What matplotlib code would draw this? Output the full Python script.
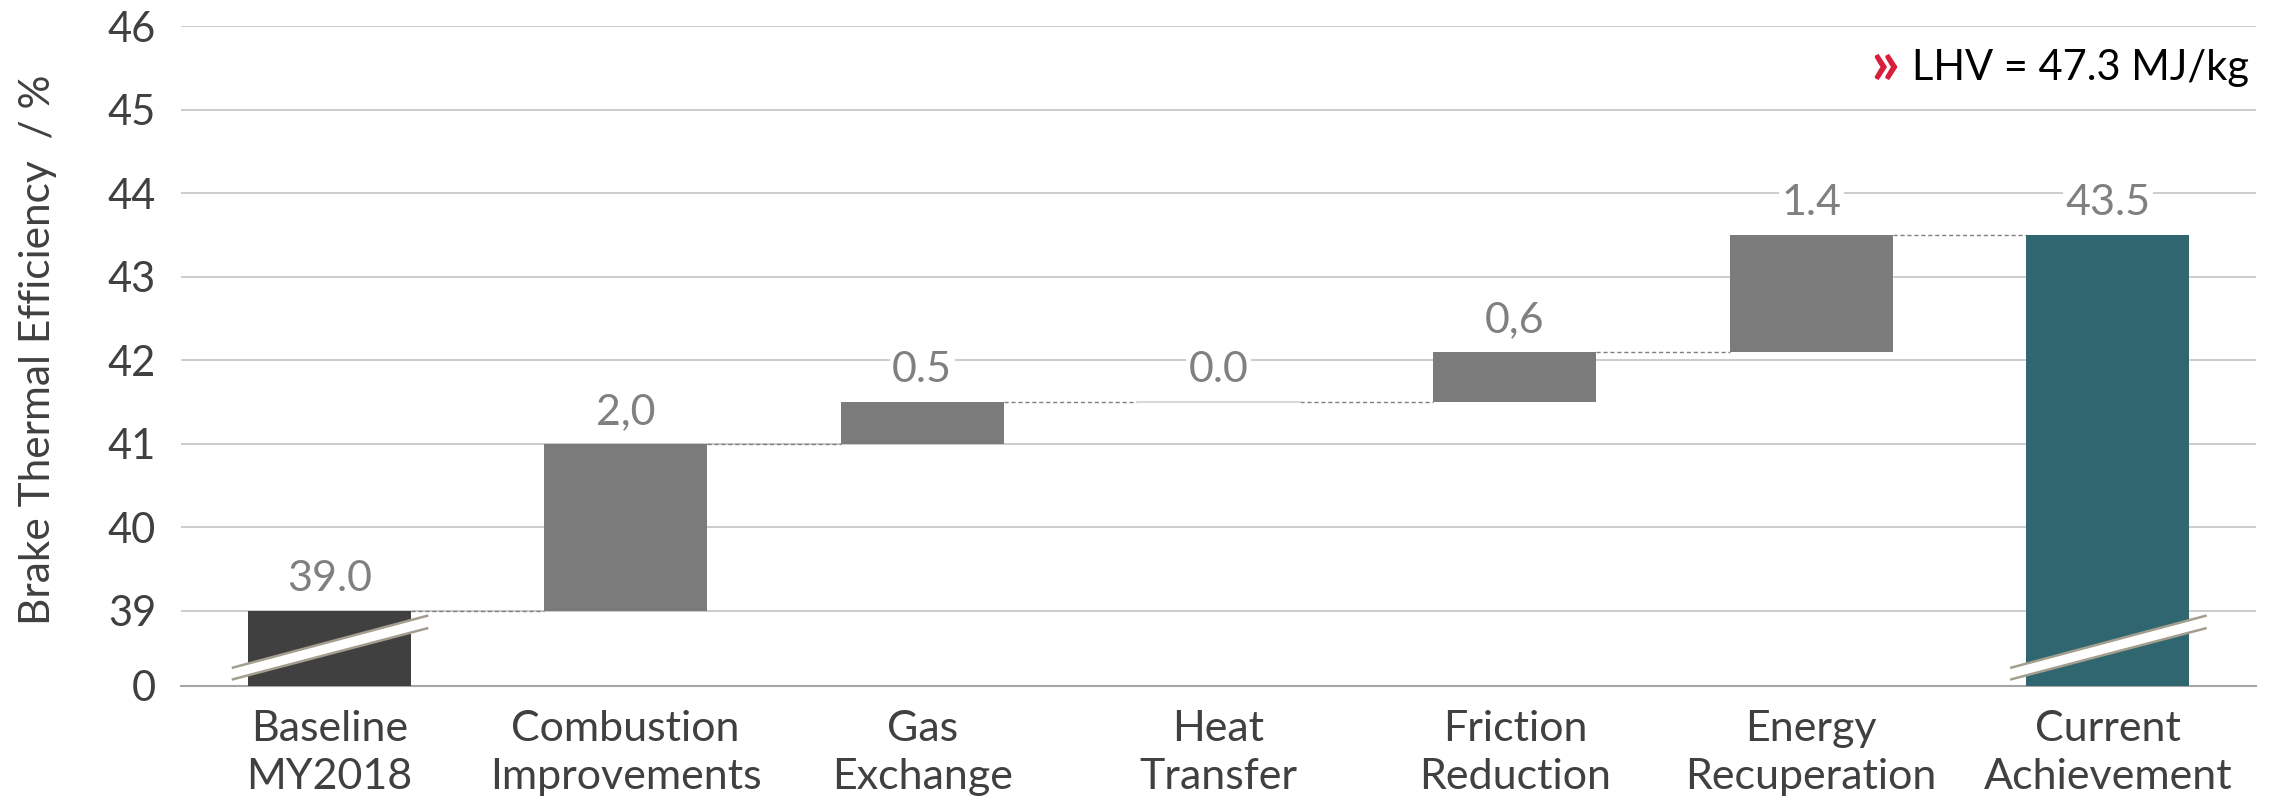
import matplotlib
matplotlib.use("Agg")
import matplotlib.pyplot as plt
from matplotlib.patches import Polygon

# ---- data ----
categories = ["Baseline\nMY2018", "Combustion\nImprovements", "Gas\nExchange",
              "Heat\nTransfer", "Friction\nReduction", "Energy\nRecuperation",
              "Current\nAchievement"]
baseline = 39.0
steps = [2.0, 0.5, 0.0, 0.6, 1.4]
total = 43.5
value_labels = ["39.0", "2,0", "0.5", "0.0", "0,6", "1.4", "43.5"]
axis_floor = 38.1          # broken axis: this position is labelled "0"
ytick_values = [38.1, 39, 40, 41, 42, 43, 44, 45, 46]
ytick_labels = ["0", "39", "40", "41", "42", "43", "44", "45", "46"]
note = "LHV = 47.3 MJ/kg"

plt.rcParams["font.family"] = ["Lato", "DejaVu Sans"]

C_BASE = "#404040"
C_STEP = "#7b7b7b"
C_TOTAL = "#2f666f"
C_TEXT = "#404040"
C_VAL = "#808080"
BW = 0.55

fig = plt.figure(figsize=(22.75, 8.01), dpi=100)
ax = fig.add_axes([0.0796, 0.1436, 0.912, 0.8239])

# running totals
tops = [baseline]
bottoms = [axis_floor]
run = baseline
for s in steps:
    bottoms.append(run)
    run += s
    tops.append(run)
tops.append(total)
bottoms.append(axis_floor)

n = len(categories)
for i in range(n):
    if i == 0:
        col = C_BASE
    elif i == n - 1:
        col = C_TOTAL
    else:
        col = C_STEP
    h = tops[i] - bottoms[i]
    if h == 0:
        ax.plot([i - BW / 2, i + BW / 2], [tops[i], tops[i]], color="#d9d9d9",
                lw=1.5, zorder=3)
    else:
        ax.bar(i, h, bottom=bottoms[i], width=BW, color=col, zorder=3)

# dashed connectors
for i in range(n - 1):
    ax.plot([i + BW / 2, i + 1 - BW / 2], [tops[i], tops[i]], color="#808080",
            lw=1, ls=(0, (3, 2)), zorder=2)

# value labels
for i, lab in enumerate(value_labels):
    ax.text(i, tops[i] + 0.38, lab, ha="center", va="center", fontsize=31,
            color=C_VAL, zorder=4,
            bbox=dict(facecolor="white", edgecolor="none", pad=2))

# axis break marks on the first and last bar
def draw_break(xc):
    lo_l, lo_r, hi_l, hi_r = 0.08, 0.69, 0.22, 0.84
    x0, x1 = xc - 0.325, xc + 0.33
    pts = [(x0, axis_floor + lo_l), (x1, axis_floor + lo_r),
           (x1, axis_floor + hi_r), (x0, axis_floor + hi_l)]
    ax.add_patch(Polygon(pts, closed=True, facecolor="white", edgecolor="none",
                         zorder=5, clip_on=False))
    ax.plot([x0, x1], [axis_floor + lo_l, axis_floor + lo_r], color="#a39e8e",
            lw=1.8, zorder=6, clip_on=False)
    ax.plot([x0, x1], [axis_floor + hi_l, axis_floor + hi_r], color="#a39e8e",
            lw=1.8, zorder=6, clip_on=False)

draw_break(0)
draw_break(n - 1)

ax.set_xlim(-0.5, n - 0.5)
ax.set_ylim(axis_floor, 46)
ax.set_yticks(ytick_values)
ax.set_yticklabels(ytick_labels)
ax.set_xticks(range(n))
ax.set_xticklabels(categories, linespacing=1.32)
ax.tick_params(axis="y", length=0, pad=18, labelsize=30, labelcolor=C_TEXT)
ax.tick_params(axis="x", length=0, pad=17, labelsize=31, labelcolor=C_TEXT)

ax.grid(axis="y", color="#c4c4c4", lw=1.2, zorder=0)
ax.set_axisbelow(True)
for side in ["top", "right", "left"]:
    ax.spines[side].set_visible(False)
ax.spines["bottom"].set_color("#a6a6a6")
ax.spines["bottom"].set_linewidth(1.5)

fig.text(0.0165, 1 - 350 / 801, "Brake Thermal Efficiency  / %", rotation=90,
         ha="center", va="center", fontsize=30.5, color=C_TEXT)

t = fig.text(0.9885, 1 - 68 / 801, note, ha="right", va="center", fontsize=30,
             color="black")
ax.annotate("»", xy=(0, 0.5), xycoords=t, xytext=(-9, 2), textcoords="offset points",
            ha="right", va="center", fontsize=46, fontweight="bold", color="#d81e3a")

fig.savefig("out.png", dpi=100)
